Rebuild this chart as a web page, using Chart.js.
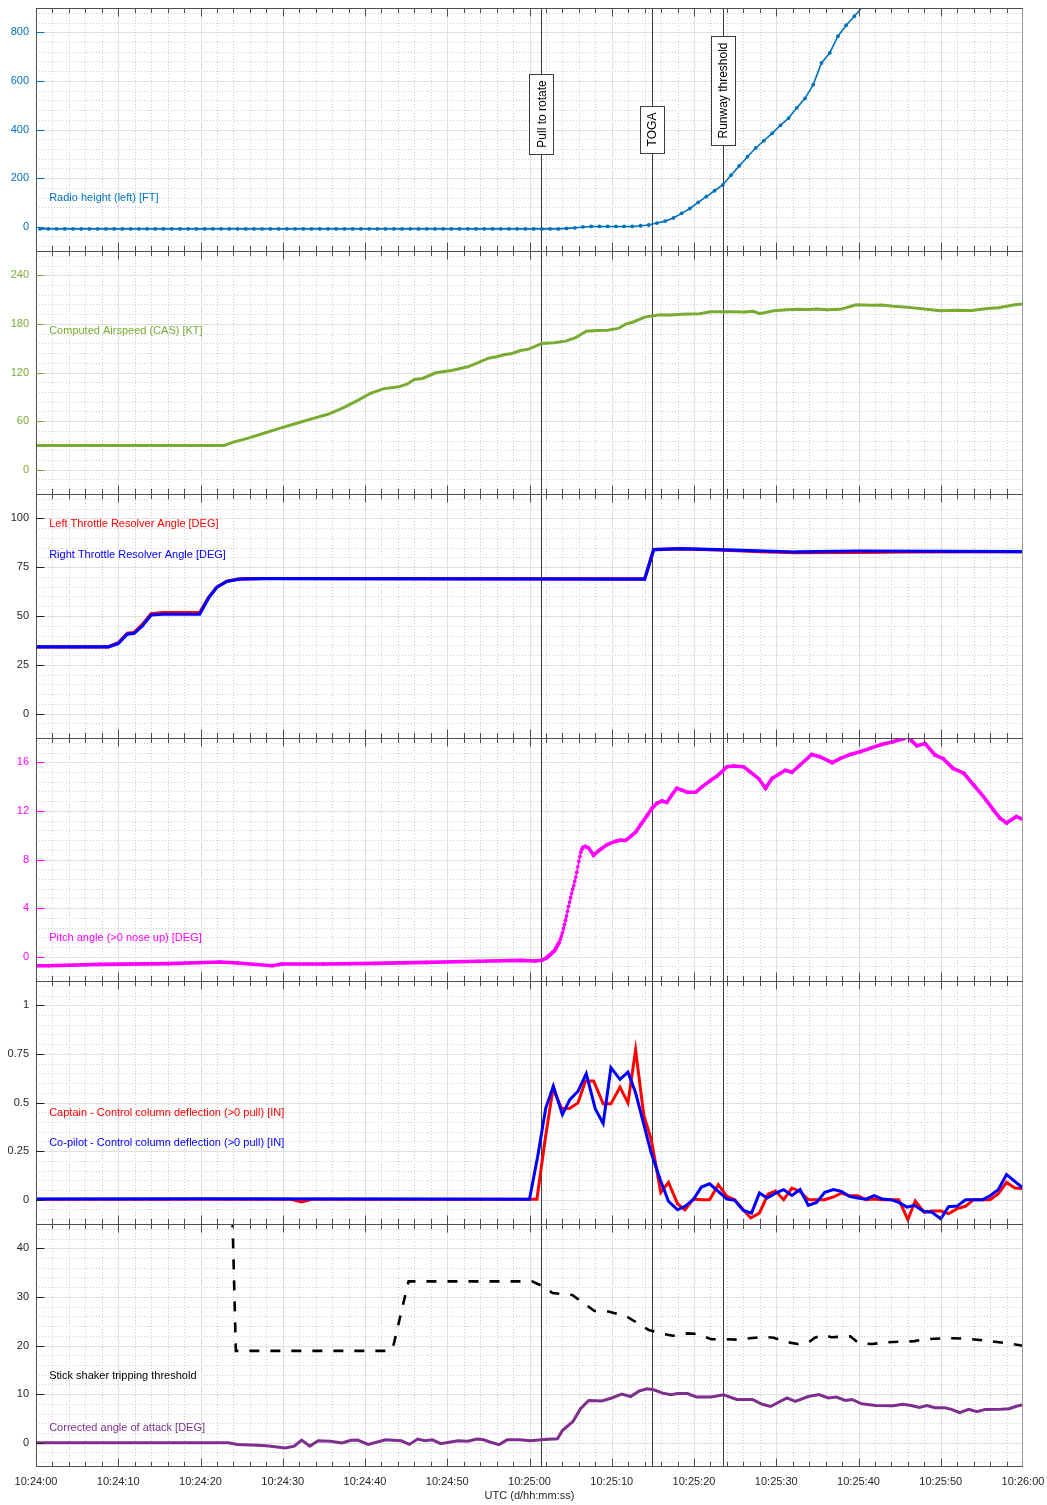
<!DOCTYPE html>
<html>
<head>
<meta charset="utf-8">
<title>Take-off flight data</title>
<script src="https://cdn.jsdelivr.net/npm/chart.js@4.4.1/dist/chart.umd.min.js"></script>
<style>
  html, body { margin: 0; padding: 0; background: #ffffff; }
  #fig { position: relative; width: 1047px; height: 1505px; overflow: hidden; }
  .panel { position: absolute; left: 0; width: 1047px; }
  .panel canvas { display: block; }
</style>
</head>
<body>
<div id="fig"></div>
<script>
// ---------------------------------------------------------------------------
// Time axis: seconds after 10:24:00 UTC
// ---------------------------------------------------------------------------
const TIME_TICKS = [0, 10, 20, 30, 40, 50, 60, 70, 80, 90, 100, 110, 120];
const TIME_LABELS = ['10:24:00', '10:24:10', '10:24:20', '10:24:30', '10:24:40', '10:24:50',
  '10:25:00', '10:25:10', '10:25:20', '10:25:30', '10:25:40', '10:25:50', '10:26:00'];

// Event markers
const EVENT_TIMES = [61.44, 74.85, 83.54];
const EVENT_NAMES = ['Pull to rotate', 'TOGA', 'Runway threshold'];

// Radio height [ft], 1 Hz samples starting at 0.5 s
const RADIO_T0 = 0.5;
const radioFt = [
  -9, -9, -9, -9, -9, -9, -9, -9, -9, -9, -9, -9, -9, -9, -9, -9,
  -9, -9, -9, -9, -9, -9, -9, -9, -9, -9, -9, -9, -9, -9, -9, -9,
  -9, -9, -9, -9, -9, -9, -9, -9, -9, -9, -9, -9, -9, -9, -9, -9,
  -9, -9, -9, -9, -9, -9, -9, -9, -9, -9, -9, -9, -9, -9, -9, -9,
  -7, -5, -1, 1, 1, 1, 1, 1, 1, 4, 7, 15, 23, 36, 55, 75, 100, 124, 148, 172,
  212, 250, 288, 324, 354, 384, 417, 447, 489, 528, 585, 674, 715, 784, 829, 866, 905, 940
];
const radioT = radioFt.map((_, i) => RADIO_T0 + i);

// Computed airspeed [kt]
const casT = [0, 22.9, 23.9, 25.8, 27.7, 29.6, 31.6, 33.5, 35.5, 37.4, 39.3, 40.6, 42.2, 44.1, 45.1, 46, 47,
  48.6, 50.5, 52.5, 53.7, 55, 56, 57, 57.9, 58.9, 59.9, 61.5, 63, 64.4, 65.6, 66.9, 68.2, 69.5, 70.8,
  71.7, 72.7, 74, 75.9, 77.2, 78.5, 80.7, 82, 84.3, 86.2, 87.2, 88, 89.7, 91.3, 92.6, 93.9, 94.9, 96.2,
  97.8, 99.7, 101.6, 102.9, 104.2, 106.1, 108, 109.9, 111.9, 113.8, 115.7, 117, 119, 120];
const casKt = [30, 30, 33.8, 39, 45, 51, 57, 62.7, 68.4, 76.7, 86.6, 94, 99.8, 102.3, 105.5, 111.3, 112.6,
  119.6, 122.5, 127, 132, 137.7, 139.4, 142.3, 143.5, 147.2, 148.8, 155.9, 156.7, 158.7, 162.9, 171, 172, 172.3, 174.4,
  179.7, 182.7, 188.4, 191.4, 191, 191.8, 192.6, 195, 195, 194.6, 195.5, 192.5, 196.2, 197.5, 198, 197.7, 198.3, 197.5,
  198, 203.7, 203, 203.2, 201.7, 200.4, 198.3, 196.3, 197, 196.6, 199, 200, 203.7, 204.5];

// Throttle resolver angles [deg]
const traLeftT = [0, 8.8, 10, 11.1, 11.9, 12.9, 14, 15.4, 19.9, 21, 22, 23.2, 24.7, 26, 27.8, 74, 75.1, 78.3, 83, 88, 92.3, 100, 106, 120];
const traLeftDeg = [34.2, 34.2, 36.3, 41.2, 41.5, 45.5, 51.2, 51.8, 51.8, 59.6, 64.9, 67.8, 69, 69.1, 69.2, 69, 84, 84.4, 83.8, 83, 82.5, 82.6, 82.8, 83];
const traRightT = [0, 8.8, 10, 11.1, 11.9, 12.9, 14, 15.4, 19.9, 21, 22, 23.2, 24.7, 26, 27.8, 74, 75.1, 78.3, 83, 92.3, 100, 120];
const traRightDeg = [34.2, 34.2, 35.9, 40.7, 41, 44.8, 50.5, 50.9, 50.9, 59.4, 64.8, 67.7, 68.9, 69, 69.1, 68.9, 84, 84.5, 84, 82.8, 83.3, 83];

// Pitch angle [deg] (dense during rotation)
const pitchT = [0, 1.5, 7.8, 16.1, 22.4, 24.5, 28.7, 29.9, 34.9, 41.2, 47.5, 53.8, 58.9, 60.7, 61.5,
  62, 62.125, 62.25, 62.375, 62.5, 62.625, 62.75, 62.875, 63, 63.125, 63.25, 63.375, 63.5, 63.625, 63.75, 63.875,
  64, 64.125, 64.25, 64.375, 64.5, 64.625, 64.75, 64.875, 65, 65.125, 65.25, 65.375, 65.5, 65.625, 65.75, 65.875,
  66, 66.125, 66.25, 66.375, 66.5, 66.8, 67.2, 67.8, 68.4, 69.4, 70.4, 71.1, 71.7, 72.3, 72.9,
  73.5, 74.3, 74.9, 75.5, 76.1, 76.7, 77.3, 77.9, 78.5, 79.2, 80.2, 81, 82, 82.8, 83.4, 84, 84.8, 86,
  86.8, 87.9, 88.7, 89.5, 91.1, 91.9, 92.9, 94.3, 95.3, 96.8, 97.8, 99, 100.2, 101.4, 102.8, 104.2,
  105.5, 106, 106.5, 107.1, 108.1, 109.3, 110.3, 111.5, 112.8, 114, 115.2, 116.4, 117.2, 118, 119.2, 120.1];
const pitchDeg = [-0.74, -0.74, -0.63, -0.57, -0.44, -0.52, -0.74, -0.6, -0.6, -0.55, -0.47, -0.38, -0.3, -0.35, -0.3,
  -0.12, -0.06, 0, 0.08, 0.16, 0.24, 0.32, 0.4, 0.46, 0.58, 0.74, 0.9, 1.05, 1.2, 1.45, 1.7,
  1.97, 2.3, 2.65, 3, 3.35, 3.75, 4.15, 4.5, 4.85, 5.2, 5.55, 5.85, 6.2, 6.55, 6.95, 7.4,
  7.85, 8.25, 8.6, 8.85, 9, 9.08, 8.94, 8.34, 8.72, 9.21, 9.49, 9.6, 9.57, 9.9, 10.25,
  10.85, 11.62, 12.22, 12.63, 12.82, 12.7, 13.3, 13.86, 13.72, 13.53, 13.53, 14, 14.5, 14.87, 15.23, 15.64, 15.7, 15.64,
  15.23, 14.63, 13.86, 14.68, 15.34, 15.18, 15.78, 16.65, 16.46, 15.97, 16.32, 16.65, 16.87, 17.15, 17.47, 17.7,
  17.95, 18.15, 17.74, 17.36, 17.55, 16.6, 16.3, 15.5, 15.1, 14.13, 13.18, 12.08, 11.4, 11, 11.54, 11.26];

// Control column deflection [in]
const ccCaptT = [0, 31, 32.3, 33.5, 60.9, 61.9, 62.85, 63.9, 64.85, 65.9, 66.8, 67.8, 68.96, 69.9, 71, 71.97, 72.9,
  73.9, 74.8, 75.96, 76.9, 78, 78.9, 79.9, 80.9, 81.9, 82.95, 84, 84.95, 86, 86.9, 87.95, 89, 89.9, 90.9,
  91.9, 92.8, 93.9, 94.9, 95.9, 96.96, 97.9, 98.9, 99.9, 100.9, 101.9, 102.9, 103.9, 104.9, 106, 106.9,
  108, 109, 110, 110.95, 112, 113, 114, 115.1, 116, 117, 118, 119, 120];
const ccCaptIn = [0.002, 0.002, -0.012, 0.002, 0.002, 0.309, 0.571, 0.47, 0.469, 0.498, 0.61, 0.61, 0.493, 0.493, 0.579, 0.498, 0.77,
  0.433, 0.309, 0.038, 0.089, -0.021, -0.052, 0.003, 0, 0, 0.077, 0.017, 0, -0.052, -0.094, -0.069, 0.029, 0.045, 0,
  0.06, 0.045, 0, 0, 0, 0.014, 0.034, 0.02, 0.02, 0, 0.003, 0, 0, 0, -0.103, -0.007,
  -0.065, -0.058, -0.058, -0.072, -0.046, -0.034, 0, 0, 0, 0.031, 0.089, 0.06, 0.057];
const ccFoT = [0, 20, 45, 60, 61, 61.97, 62.9, 64, 64.9, 65.9, 66.9, 68, 68.96, 69.9, 71, 71.97, 72.9, 74.8,
  75.9, 76.9, 78, 78.9, 79.9, 80.9, 81.9, 82.95, 84, 84.95, 86, 87, 87.95, 88.9, 89.9, 90.9, 91.9, 92.9,
  93.9, 94.9, 95.9, 96.96, 97.9, 98.9, 99.9, 100.9, 101.9, 102.9, 103.9, 104.9, 105.9, 106.8, 107.9, 108.9,
  110, 110.95, 112, 113, 114, 115.1, 116, 117, 118, 119, 120];
const ccFoIn = [0.003, 0.005, 0.003, 0.002, 0.223, 0.47, 0.584, 0.438, 0.515, 0.558, 0.648, 0.467, 0.392, 0.679, 0.619, 0.656, 0.55, 0.24,
  0.103, -0.009, -0.052, -0.034, 0, 0.065, 0.082, 0.043, 0.003, -0.003, -0.055, -0.069, 0.034, 0.009, 0.034, 0.052, 0.022, 0.052,
  -0.029, -0.014, 0.038, 0.052, 0.043, 0.017, 0.009, 0.003, 0.021, 0.003, 0, -0.014, -0.038, -0.029, -0.06, -0.064,
  -0.098, -0.036, -0.033, 0, 0, 0, 0.02, 0.052, 0.129, 0.094, 0.06];

// Stick shaker tripping threshold and corrected angle of attack [deg]
const shakerT = [23.75, 24.3, 43.1, 43.5, 44.3, 45.3, 60.3, 61.5, 62.8, 63.8, 65.2, 67.9, 69.6, 71.8, 74.5, 76.2,
  77.4, 79.2, 80.3, 82.1, 83.8, 85.2, 88.5, 89.7, 91, 92.6, 93.9, 94.7, 95.7, 96.7, 99, 100, 101.7, 103.3,
  106.8, 108.2, 110.7, 113.2, 115.6, 118.1, 120];
const shakerDeg = [55, 18.9, 18.9, 20.3, 26.1, 33.2, 33.2, 32.3, 30.8, 30.6, 30.4, 27.1, 27, 26, 23.2, 22.4,
  22, 22.5, 22.4, 21.3, 21.3, 21.2, 21.8, 21.6, 20.8, 20.3, 20.6, 21.6, 22.2, 21.7, 21.9, 20.5, 20.3, 20.65,
  20.9, 21.3, 21.5, 21.4, 21, 20.45, 19.96];
const aoaT = [0, 23.4, 24.5, 27, 28.3, 30.3, 31.4, 32.3, 33.3, 34.3, 35.8, 37.2, 38.3, 39.1, 40.4, 42.5, 44.4,
  45.4, 46.4, 47.3, 48.2, 49.2, 50.4, 51.3, 52.5, 53.6, 54.4, 55.2, 56.3, 57.3, 58.8, 60.1, 61.8, 63.4, 64,
  65.3, 66.2, 67.2, 68.8, 70, 71.2, 72.3, 73.3, 74.3, 75.1, 76.2, 77.2, 78, 79.2, 80.3, 82.1, 83.6, 85.2,
  87.1, 88.3, 89.3, 91.3, 92.3, 93.9, 95.2, 96.3, 97.3, 98.4, 99.2, 100.4, 102.1, 104.2, 105.4, 106.4,
  107.4, 108.3, 109.3, 110.5, 111.3, 112.3, 113.4, 114.4, 115.4, 117.3, 118.3, 119.2, 120];
const aoaDeg = [0, 0, -0.35, -0.55, -0.7, -1.1, -0.7, 0.55, -0.7, 0.4, 0.3, -0.07, 0.5, 0.55, -0.35, 0.6, 0.4,
  -0.35, 0.75, 0.4, 0.6, -0.2, 0.14, 0.4, 0.3, 0.75, 0.6, 0.14, -0.4, 0.6, 0.6, 0.4, 0.66, 0.8, 2.5,
  4.4, 7, 8.7, 8.6, 9.2, 10, 9.5, 10.6, 11.1, 10.9, 10.2, 9.85, 10.1, 10.1, 9.4, 9.4, 9.85, 8.9,
  8.9, 7.9, 7.45, 9.2, 8.5, 9.5, 9.9, 9.2, 9.4, 8.7, 8.9, 8, 7.66, 7.6, 7.9, 7.66,
  7.25, 7.66, 7.2, 7.2, 6.85, 6.2, 6.85, 6.4, 6.85, 6.9, 7, 7.5, 7.8];

// Y tick values per panel
const RADIO_TICKS = [0, 200, 400, 600, 800];
const CAS_TICKS = [0, 60, 120, 180, 240];
const TRA_TICKS = [0, 25, 50, 75, 100];
const PITCH_TICKS = [0, 4, 8, 12, 16];
const CC_TICKS = [0, 0.25, 0.5, 0.75, 1];
const AOA_TICKS = [0, 10, 20, 30, 40];

// ---------------------------------------------------------------------------
// Styling
// ---------------------------------------------------------------------------
const FONT = '"Liberation Sans", Arial, Helvetica, sans-serif';
Chart.defaults.font.family = FONT;
Chart.defaults.font.size = 11;
Chart.defaults.color = '#262626';

const AXIS_COLOR = '#4d4d4d';
const GRID_MAJOR = '#e0e0e0';
const GRID_MINOR = '#cfcfcf';
const EVENT_COLOR = '#3c3c3c';
const LEFT_PX = 36, RIGHT_PAD = 24;

const C_BLUE = '#0072BD', C_GREEN = '#77AC30', C_RED = '#FF0000', C_PURE_BLUE = '#0000FF',
      C_MAGENTA = '#FF00FF', C_PURPLE = '#7E2F8E', C_BLACK = '#000000', C_TEXT = '#262626';

function pts(t, v) { return t.map((x, i) => ({ x: x, y: v[i] })); }

const panels = [
  {
    top: 8, h: 243, yMin: -100, yMax: 900, ticks: RADIO_TICKS, major: 200, minor: 40, tickColor: C_BLUE,
    series: [{ t: radioT, v: radioFt, color: C_BLUE, width: 1.6, radius: 1.9 }],
    notes: [{ text: 'Radio height (left) [FT]', color: C_BLUE, y: 120 }],
    eventLabels: [300, 305, 335]
  },
  {
    top: 251, h: 243, yMin: -30, yMax: 270, ticks: CAS_TICKS, major: 60, minor: 12, tickColor: C_GREEN,
    series: [{ t: casT, v: casKt, color: C_GREEN, width: 3 }],
    notes: [{ text: 'Computed Airspeed (CAS) [KT]', color: C_GREEN, y: 171 }]
  },
  {
    top: 494, h: 244, yMin: -12.5, yMax: 112.5, ticks: TRA_TICKS, major: 25, minor: 5, tickColor: C_TEXT,
    series: [
      { t: traRightT, v: traRightDeg, color: C_PURE_BLUE, width: 3.2, order: 0 },
      { t: traLeftT, v: traLeftDeg, color: C_RED, width: 3.2, order: 1 }
    ],
    notes: [
      { text: 'Left Throttle Resolver Angle [DEG]', color: C_RED, y: 97.4 },
      { text: 'Right Throttle Resolver Angle [DEG]', color: C_PURE_BLUE, y: 81.4 }
    ]
  },
  {
    top: 738, h: 243, yMin: -2, yMax: 18, ticks: PITCH_TICKS, major: 4, minor: 0.8, tickColor: C_MAGENTA,
    series: [{ t: pitchT, v: pitchDeg, color: C_MAGENTA, width: 3.6, radius: 1.9, thinSteep: true }],
    notes: [{ text: 'Pitch angle (>0 nose up) [DEG]', color: C_MAGENTA, y: 1.56 }]
  },
  {
    top: 981, h: 243, yMin: -0.125, yMax: 1.125, ticks: CC_TICKS, major: 0.25, minor: 0.05, tickColor: C_TEXT,
    series: [
      { t: ccFoT, v: ccFoIn, color: C_PURE_BLUE, width: 3, order: 0 },
      { t: ccCaptT, v: ccCaptIn, color: C_RED, width: 3, order: 1 }
    ],
    notes: [
      { text: 'Captain - Control column deflection (>0 pull) [IN]', color: C_RED, y: 0.448 },
      { text: 'Co-pilot - Control column deflection (>0 pull) [IN]', color: C_PURE_BLUE, y: 0.294 }
    ]
  },
  {
    top: 1224, h: 243, yMin: -5, yMax: 45, ticks: AOA_TICKS, major: 10, minor: 2, tickColor: C_TEXT,
    series: [
      { t: aoaT, v: aoaDeg, color: C_PURPLE, width: 3, order: 1 },
      { t: shakerT, v: shakerDeg, color: C_BLACK, width: 2.6, dash: [10, 11], order: 0 }
    ],
    notes: [
      { text: 'Stick shaker tripping threshold', color: C_BLACK, y: 13.7 },
      { text: 'Corrected angle of attack [DEG]', color: C_PURPLE, y: 3.1 }
    ],
    xAxis: true
  }
];

// ---------------------------------------------------------------------------
// Plugin drawing grid, frame, tick marks, event lines and in-plot text
// ---------------------------------------------------------------------------
function crisp(v) { return Math.round(v) + 0.5; }

const framePlugin = {
  id: 'frame',
  beforeDatasetsDraw(chart) {
    const p = chart.$panel;
    const { ctx, chartArea: a } = chart;
    const x = chart.scales.x, y = chart.scales.y;
    ctx.save();
    ctx.lineWidth = 1;
    // horizontal grid
    const k0 = Math.ceil(p.yMin / p.minor - 1e-9), k1 = Math.floor(p.yMax / p.minor + 1e-9);
    for (let k = k0; k <= k1; k++) {
      const v = k * p.minor;
      const r = v / p.major;
      const isMajor = Math.abs(r - Math.round(r)) < 1e-6;
      const py = crisp(y.getPixelForValue(v));
      if (py <= a.top + 1 || py >= a.bottom - 1) continue;
      ctx.strokeStyle = isMajor ? GRID_MAJOR : GRID_MINOR;
      ctx.setLineDash(isMajor ? [] : [1, 2]);
      ctx.beginPath(); ctx.moveTo(a.left, py); ctx.lineTo(a.right, py); ctx.stroke();
    }
    // vertical grid
    for (let s = 2; s < 120; s += 2) {
      const isMajor = s % 10 === 0;
      const px = crisp(x.getPixelForValue(s));
      ctx.strokeStyle = isMajor ? GRID_MAJOR : GRID_MINOR;
      ctx.setLineDash(isMajor ? [] : [1, 2]);
      ctx.beginPath(); ctx.moveTo(px, a.top); ctx.lineTo(px, a.bottom); ctx.stroke();
    }
    ctx.setLineDash([]);
    // event lines
    ctx.strokeStyle = EVENT_COLOR;
    EVENT_TIMES.forEach(t => {
      const px = crisp(x.getPixelForValue(t));
      ctx.beginPath(); ctx.moveTo(px, a.top); ctx.lineTo(px, a.bottom); ctx.stroke();
    });
    ctx.restore();
  },
  afterDatasetsDraw(chart) {
    const p = chart.$panel;
    const { ctx, chartArea: a } = chart;
    const x = chart.scales.x, y = chart.scales.y;
    ctx.save();
    ctx.lineWidth = 1;
    ctx.setLineDash([]);
    const top = a.top + 0.5, bottom = a.bottom - 0.5, left = crisp(a.left), right = Math.round(a.right) - 0.5;

    // frame
    ctx.strokeStyle = '#9a9a9a';
    ctx.beginPath(); ctx.moveTo(right, a.top); ctx.lineTo(right, a.bottom); ctx.stroke();
    ctx.strokeStyle = AXIS_COLOR;
    ctx.beginPath(); ctx.moveTo(a.left, top); ctx.lineTo(a.right, top); ctx.stroke();
    if (p.xAxis) {
      ctx.beginPath(); ctx.moveTo(a.left, bottom); ctx.lineTo(a.right, bottom); ctx.stroke();
    }
    ctx.beginPath(); ctx.moveTo(left, a.top); ctx.lineTo(left, a.bottom); ctx.stroke();

    // time ticks along top and bottom edges, pointing inward
    for (let s = 2; s < 120; s += 2) {
      const len = s % 10 === 0 ? 8.5 : 5;
      const px = crisp(x.getPixelForValue(s));
      ctx.beginPath();
      ctx.moveTo(px, a.top); ctx.lineTo(px, a.top + len);
      ctx.moveTo(px, a.bottom); ctx.lineTo(px, a.bottom - len);
      ctx.stroke();
    }

    // value ticks on the left edge
    ctx.strokeStyle = p.tickColor;
    p.ticks.forEach(v => {
      const py = crisp(y.getPixelForValue(v));
      ctx.beginPath(); ctx.moveTo(a.left, py); ctx.lineTo(a.left + 8.5, py); ctx.stroke();
    });

    // in-plot series names
    ctx.font = '11px ' + FONT;
    ctx.textAlign = 'left';
    ctx.textBaseline = 'middle';
    p.notes.forEach(n => {
      ctx.fillStyle = n.color;
      ctx.fillText(n.text, x.getPixelForValue(1.6), y.getPixelForValue(n.y));
    });

    // event name boxes
    if (p.eventLabels) {
      ctx.font = '12px ' + FONT;
      EVENT_TIMES.forEach((t, i) => {
        const px = x.getPixelForValue(t);
        const base = Math.round(y.getPixelForValue(p.eventLabels[i]));
        const tw = ctx.measureText(EVENT_NAMES[i]).width;
        const bh = Math.round(tw + 13), bw = 24;
        const bx = Math.round(px - bw / 2) + 0.5, by = base - bh + 0.5;
        ctx.fillStyle = '#ffffff';
        ctx.fillRect(bx, by, bw, bh);
        ctx.strokeStyle = EVENT_COLOR;
        ctx.strokeRect(bx, by, bw, bh);
        ctx.save();
        ctx.translate(px + 1, base - bh / 2);
        ctx.rotate(-Math.PI / 2);
        ctx.fillStyle = '#000000';
        ctx.textAlign = 'center';
        ctx.textBaseline = 'middle';
        ctx.fillText(EVENT_NAMES[i], 0, 0);
        ctx.restore();
      });
    }
    ctx.restore();
  }
};

// ---------------------------------------------------------------------------
// Build one chart per panel
// ---------------------------------------------------------------------------
const fig = document.getElementById('fig');
const X_AXIS_H = 38;

panels.forEach(p => {
  const canvasH = p.h + (p.xAxis ? X_AXIS_H : 0);
  const wrap = document.createElement('div');
  wrap.className = 'panel';
  wrap.style.top = p.top + 'px';
  wrap.style.height = canvasH + 'px';
  const cv = document.createElement('canvas');
  cv.width = 1047; cv.height = canvasH;
  cv.style.width = '1047px'; cv.style.height = canvasH + 'px';
  wrap.appendChild(cv);
  fig.appendChild(wrap);

  const datasets = p.series.map(s => {
    const ds = {
      data: pts(s.t, s.v),
      borderColor: s.color,
      backgroundColor: s.color,
      borderWidth: s.width,
      borderDash: s.dash || [],
      pointRadius: s.radius || 0,
      pointBorderWidth: 0,
      pointBackgroundColor: s.color,
      tension: 0,
      fill: false,
      order: s.order || 0
    };
    if (s.thinSteep) {
      // the densely sampled trace reads as separate dots where it climbs fast
      ds.segment = {
        borderWidth: c => {
          const dx = Math.abs(c.p1.x - c.p0.x), dy = Math.abs(c.p1.y - c.p0.y);
          return dy > 2.2 * dx ? 1.4 : s.width;
        }
      };
    }
    return ds;
  });

  new Chart(cv, {
    type: 'line',
    data: { datasets: datasets },
    options: {
      responsive: false,
      maintainAspectRatio: false,
      animation: false,
      events: [],
      layout: { autoPadding: false, padding: { left: 0, right: RIGHT_PAD, top: 0, bottom: 0 } },
      plugins: { legend: { display: false }, tooltip: { enabled: false } },
      scales: {
        x: {
          type: 'linear',
          min: 0, max: 120,
          display: !!p.xAxis,
          grid: { display: false, drawTicks: false },
          border: { display: false },
          afterBuildTicks: s => { s.ticks = TIME_TICKS.map(v => ({ value: v })); },
          afterFit: s => {
            s.height = p.xAxis ? X_AXIS_H : 0;
            s.paddingLeft = 0; s.paddingRight = 0;
          },
          ticks: {
            autoSkip: false, maxRotation: 0, minRotation: 0, padding: 8, color: C_TEXT,
            font: { size: 11 },
            callback: (v, i) => TIME_LABELS[i]
          },
          title: { display: true, text: 'UTC (d/hh:mm:ss)', color: C_TEXT, font: { size: 11 }, padding: { top: 0, bottom: 2 } }
        },
        y: {
          type: 'linear',
          min: p.yMin, max: p.yMax,
          grid: { display: false, drawTicks: false },
          border: { display: false },
          afterBuildTicks: s => { s.ticks = p.ticks.map(v => ({ value: v })); },
          afterFit: s => { s.width = LEFT_PX; s.paddingTop = 0; s.paddingBottom = 0; },
          ticks: { padding: 7, color: p.tickColor, font: { size: 11 }, callback: v => String(v) }
        }
      }
    },
    plugins: [{ id: 'attach', beforeInit(c) { c.$panel = p; } }, framePlugin]
  });
});
</script>
</body>
</html>
